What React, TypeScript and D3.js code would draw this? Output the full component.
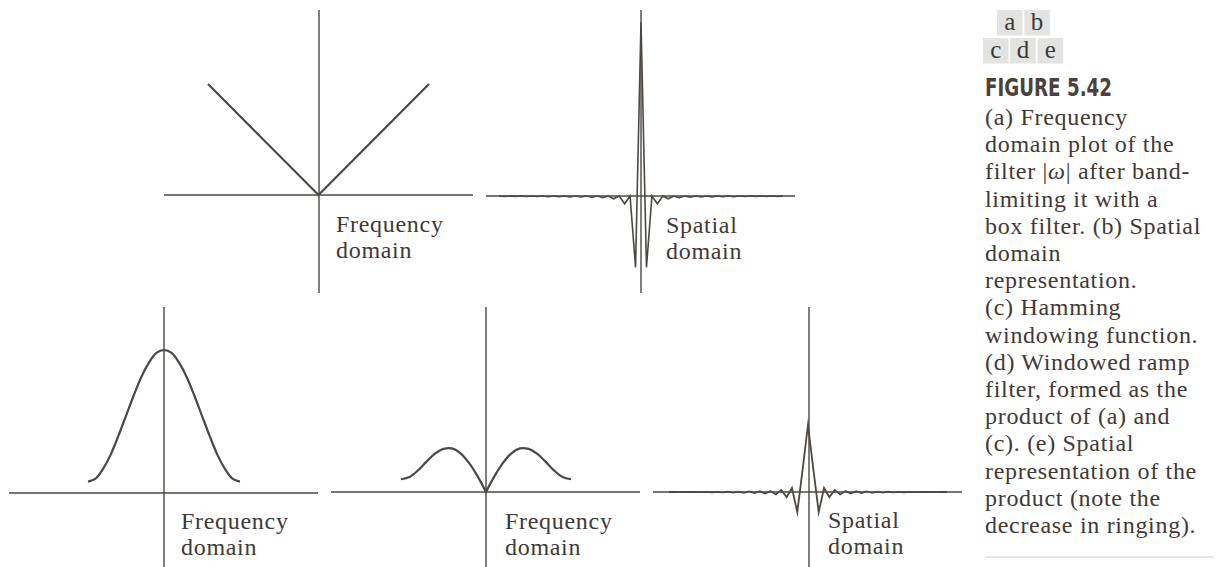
import { useRef, useEffect } from "react";
import { select, scaleLinear, line, curveMonotoneX, curveCatmullRom, curveLinear } from "d3";

// (a) band-limited ramp |w|, sampled at u = -1, 0, 1
const rampU = [-1, 0, 1];
const rampValues = [1, 0, 1];

// (b) spatial response of the ramp filter, n = -26..26 (peak = 1)
const rampSpatial = [
  0, -0.002, 0, -0.002, 0, -0.003, 0, -0.003, 0, -0.004, 0, -0.004, 0,
  -0.005, 0, -0.006, 0, -0.007, 0, -0.01, 0, -0.016, 0, -0.045, 0, -0.41,
  1,
  -0.41, 0, -0.045, 0, -0.016, 0, -0.01, 0, -0.007, 0, -0.006, 0, -0.005,
  0, -0.004, 0, -0.004, 0, -0.003, 0, -0.003, 0, -0.002, 0, -0.002, 0,
];

// (c) Hamming window, u = -1..1 step 0.1
const hammingValues = [
  0.08, 0.1, 0.17, 0.27, 0.4, 0.54, 0.68, 0.81, 0.91, 0.98, 1.0,
  0.98, 0.91, 0.81, 0.68, 0.54, 0.4, 0.27, 0.17, 0.1, 0.08,
];

// (d) windowed ramp, u = -1..1 step 0.1
const windowedRamp = [
  0.29, 0.34, 0.49, 0.69, 0.87, 0.98, 0.99, 0.88, 0.66, 0.36, 0,
  0.36, 0.66, 0.88, 0.99, 0.98, 0.87, 0.69, 0.49, 0.34, 0.29,
];

// (e) spatial response of the windowed ramp, n = -26..26
const windowedSpatial = [
  0, 0, -0.001, 0.001, -0.002, 0.001, -0.003, 0.002, -0.004, 0.003, -0.006,
  0.004, -0.009, 0.006, -0.012, 0.008, -0.017, 0.011, -0.024, 0.016, -0.037,
  0.03, -0.075, 0.06, -0.3, 0.34,
  1,
  0.34, -0.3, 0.06, -0.075, 0.03, -0.037, 0.016, -0.024, 0.011, -0.017,
  0.008, -0.012, 0.006, -0.009, 0.004, -0.006, 0.003, -0.004, 0.002, -0.003,
  0.001, -0.002, 0.001, -0.001, 0, 0,
];

const panelLetters = [["a", "b"], ["c", "d", "e"]];
const figureTitle = "FIGURE 5.42";
const captionLines = [
  "(a) Frequency",
  "domain plot of the",
  "filter |ω| after band-",
  "limiting it with a",
  "box filter. (b) Spatial",
  "domain",
  "representation.",
  "(c) Hamming",
  "windowing function.",
  "(d) Windowed ramp",
  "filter, formed as the",
  "product of (a) and",
  "(c). (e) Spatial",
  "representation of the",
  "product (note the",
  "decrease in ringing).",
];

const INK = "#3f3a36";
const LINE = "#4d4843";
const SERIF = "'Liberation Serif', 'DejaVu Serif', serif";

// layout of each of the five small plots
const panels = [
  { id: "a", ax: 319, ay: 195, hx: [164, 473], vy: [10, 293], label: ["Frequency", "domain"], lx: 336, ly: 232 },
  { id: "b", ax: 641, ay: 196, hx: [486, 795], vy: [10, 293], label: ["Spatial", "domain"], lx: 666, ly: 233 },
  { id: "c", ax: 164, ay: 493, hx: [9, 318], vy: [307, 567], label: ["Frequency", "domain"], lx: 181, ly: 529 },
  { id: "d", ax: 486, ay: 492, hx: [331, 640], vy: [307, 567], label: ["Frequency", "domain"], lx: 505, ly: 529 },
  { id: "e", ax: 809, ay: 492, hx: [653, 962], vy: [307, 567], label: ["Spatial", "domain"], lx: 828, ly: 528 },
];

function App() {
  const svgRef = useRef<SVGSVGElement>(null);

  useEffect(() => {
    const svg = select(svgRef.current);
    svg.selectAll("*").remove();

    const g = svg.append("g");

    // axes + labels
    panels.forEach((p) => {
      g.append("line")
        .attr("x1", p.hx[0]).attr("x2", p.hx[1])
        .attr("y1", p.ay).attr("y2", p.ay)
        .attr("stroke", LINE).attr("stroke-width", 1.4);
      g.append("line")
        .attr("x1", p.ax).attr("x2", p.ax)
        .attr("y1", p.vy[0]).attr("y2", p.vy[1])
        .attr("stroke", LINE).attr("stroke-width", 1.4);
      p.label.forEach((t, i) => {
        g.append("text")
          .attr("x", p.lx).attr("y", p.ly + i * 26)
          .attr("fill", INK)
          .style("font-family", SERIF).style("font-size", "24px")
          .style("letter-spacing", "0.7px")
          .text(t);
      });
    });

    const drawPath = (pts: [number, number][], width: number, curve: any = curveLinear) => {
      g.append("path")
        .attr("d", line().curve(curve)(pts))
        .attr("fill", "none")
        .attr("stroke", LINE)
        .attr("stroke-width", width)
        .attr("stroke-linejoin", "miter")
        .attr("stroke-miterlimit", 20);
    };

    // (a) ramp
    {
      const x = scaleLinear().domain([-1, 1]).range([208, 429]);
      const y = scaleLinear().domain([0, 1]).range([195, 84]);
      drawPath(rampU.map((u, i) => [x(u), y(rampValues[i])]), 2.2);
    }

    // (b) spatial ramp
    {
      const x = scaleLinear().domain([0, rampSpatial.length - 1]).range([499, 783]);
      const y = scaleLinear().domain([0, 1]).range([196, 22]);
      drawPath(rampSpatial.map((v, i) => [x(i), y(v)]), 1.6);
    }

    // (c) Hamming window
    {
      const x = scaleLinear().domain([0, hammingValues.length - 1]).range([88, 240]);
      const y = scaleLinear().domain([0, 1]).range([493, 350]);
      drawPath(hammingValues.map((v, i) => [x(i), y(v)]), 2.2, curveMonotoneX);
    }

    // (d) windowed ramp, two halves meeting at the cusp
    {
      const x = scaleLinear().domain([0, windowedRamp.length - 1]).range([401, 571]);
      const y = scaleLinear().domain([0, 1]).range([492, 448]);
      const mid = (windowedRamp.length - 1) / 2;
      const pts = windowedRamp.map((v, i) => [x(i), y(v)] as [number, number]);
      drawPath(pts.slice(0, mid + 1), 2.2, curveCatmullRom);
      drawPath(pts.slice(mid), 2.2, curveCatmullRom);
    }

    // (e) windowed spatial response
    {
      const x = scaleLinear().domain([0, windowedSpatial.length - 1]).range([669, 947]);
      const y = scaleLinear().domain([0, 1]).range([492, 425]);
      drawPath(windowedSpatial.map((v, i) => [x(i), y(v)]), 1.8);
    }

    // panel letter boxes
    const boxW = 25.5;
    const boxH = 25.5;
    const rowX = [997, 983];
    const rowY = [10, 38];
    panelLetters.forEach((row, r) => {
      row.forEach((letter, c) => {
        const bx = rowX[r] + c * (boxW + 1.8);
        g.append("rect")
          .attr("x", bx).attr("y", rowY[r])
          .attr("width", boxW).attr("height", boxH)
          .attr("fill", "#e3e3e2");
        g.append("text")
          .attr("x", bx + boxW / 2).attr("y", rowY[r] + 19.5)
          .attr("text-anchor", "middle")
          .attr("fill", INK)
          .style("font-family", SERIF).style("font-size", "25px")
          .text(letter);
      });
    });

    g.append("text")
      .attr("x", 985).attr("y", 96)
      .attr("fill", "#4a413b")
      .attr("textLength", 127)
      .attr("lengthAdjust", "spacingAndGlyphs")
      .style("font-family", "'Liberation Sans Narrow', 'DejaVu Sans Condensed', sans-serif")
      .style("font-weight", "bold")
      .style("font-size", "25px")
      .text(figureTitle);

    captionLines.forEach((t, i) => {
      const txt = g.append("text")
        .attr("x", 985).attr("y", 125 + i * 27.2)
        .attr("fill", INK)
        .style("font-family", SERIF).style("font-size", "24px")
        .style("letter-spacing", "0.7px");
      if (t.includes("ω")) {
        const [before, after] = t.split("ω");
        txt.append("tspan").text(before);
        txt.append("tspan").style("font-style", "italic").text("ω");
        txt.append("tspan").text(after);
      } else {
        txt.text(t);
      }
    });

    g.append("line")
      .attr("x1", 985).attr("x2", 1214)
      .attr("y1", 557).attr("y2", 557)
      .attr("stroke", "#cfcfcf").attr("stroke-width", 1);
  }, []);

  return (
    <svg
      ref={svgRef}
      width={1217}
      height={567}
      style={{ position: "absolute", left: 0, top: 0, background: "#fff" }}
    />
  );
}

export default App;
